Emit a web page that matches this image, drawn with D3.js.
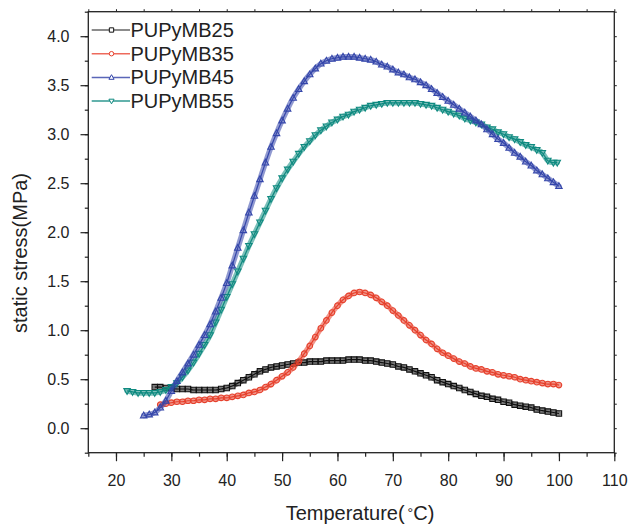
<!DOCTYPE html>
<html><head><meta charset="utf-8">
<script src="https://cdn.jsdelivr.net/npm/d3@7/dist/d3.min.js"></script>
<style>
body{margin:0;background:#fff}
svg{display:block}
text{font-family:"Liberation Sans",Arial,Helvetica,sans-serif;fill:#222}
</style>
</head><body>
<svg id="chart" width="630" height="525"></svg>
<script>
// ---- data ----
const seriesNames = ["PUPyMB25","PUPyMB35","PUPyMB45","PUPyMB55"];

const temp25 = [27,28,29,30,31,32,33,34,35,36,37,38,39,40,41,42,43,44,45,46,47,48,49,50,51,52,53,54,55,56,57,58,59,60,61,62,63,64,65,66,67,68,69,70,71,72,73,74,75,76,77,78,79,80,81,82,83,84,85,86,87,88,89,90,91,92,93,94,95,96,97,98,99,100];
const stress25 = [0.42,0.42,0.41,0.41,0.40,0.40,0.40,0.39,0.39,0.39,0.39,0.39,0.40,0.41,
  0.43,0.46,0.49,0.52,0.55,0.58,0.60,0.62,0.63,0.64,
  0.65,0.66,0.67,0.67,0.68,0.68,0.68,0.69,0.69,0.69,
  0.69,0.70,0.70,0.70,0.69,0.69,0.68,0.67,0.66,0.65,
  0.63,0.62,0.60,0.58,0.56,0.54,0.52,0.49,0.47,0.45,
  0.43,0.41,0.39,0.37,0.35,0.33,0.32,0.30,0.29,0.27,
  0.26,0.24,0.23,0.22,0.21,0.19,0.18,0.17,0.16,0.15];

const temp35 = [28,29,30,31,32,33,34,35,36,37,38,39,40,41,42,43,44,45,46,47,48,49,50,51,52,53,54,55,56,57,58,59,60,61,62,63,64,65,66,67,68,69,70,71,72,73,74,75,76,77,78,79,80,81,82,83,84,85,86,87,88,89,90,91,92,93,94,95,96,97,98,99,100];
const stress35 = [0.24,0.25,0.26,0.27,0.27,0.28,0.28,0.29,0.29,0.30,
  0.30,0.31,0.31,0.32,0.33,0.34,0.36,0.37,0.39,0.42,
  0.45,0.49,0.53,0.57,0.62,0.68,0.76,0.84,0.93,1.02,
  1.10,1.18,1.25,1.31,1.35,1.38,1.39,1.38,1.36,1.33,
  1.29,1.25,1.20,1.15,1.10,1.05,1.00,0.95,0.90,0.86,
  0.81,0.77,0.74,0.71,0.68,0.66,0.63,0.61,0.60,0.58,
  0.57,0.55,0.54,0.53,0.52,0.50,0.49,0.48,0.47,0.46,
  0.45,0.45,0.44];

const temp45 = [25,26,27,28,29,30,31,32,33,34,35,36,37,38,39,40,41,42,43,44,45,46,47,48,49,50,51,52,53,54,55,56,57,58,59,60,61,62,63,64,65,66,67,68,69,70,71,72,73,74,75,76,77,78,79,80,81,82,83,84,85,86,87,88,89,90,91,92,93,94,95,96,97,98,99,100];
const stress45 = [0.13,0.14,0.16,0.21,0.28,0.38,0.48,0.57,0.66,0.75,
  0.85,0.95,1.06,1.19,1.33,1.48,1.66,1.84,2.02,2.20,
  2.37,2.54,2.71,2.87,3.01,3.14,3.26,3.37,3.46,3.54,
  3.61,3.67,3.72,3.75,3.77,3.78,3.79,3.79,3.79,3.78,
  3.77,3.76,3.74,3.71,3.69,3.66,3.63,3.61,3.58,3.56,
  3.53,3.50,3.46,3.42,3.38,3.34,3.30,3.26,3.22,3.18,
  3.14,3.10,3.05,3.00,2.95,2.91,2.86,2.81,2.77,2.72,
  2.68,2.63,2.59,2.55,2.51,2.47];

const temp55 = [22,23,24,25,26,27,28,29,30,31,32,33,34,35,36,37,38,39,40,41,42,43,44,45,46,47,48,49,50,51,52,53,54,55,56,57,58,59,60,61,62,63,64,65,66,67,68,69,70,71,72,73,74,75,76,77,78,79,80,81,82,83,84,85,86,87,88,89,90,91,92,93,94,95,96,97,98,99,99.7];
const stress55 = [0.38,0.37,0.36,0.36,0.36,0.36,0.37,0.39,0.42,0.46,
  0.52,0.59,0.67,0.76,0.85,0.95,1.08,1.21,1.34,1.47,
  1.60,1.73,1.86,1.98,2.10,2.22,2.34,2.45,2.55,2.64,
  2.72,2.80,2.87,2.93,2.99,3.04,3.08,3.12,3.15,3.18,
  3.20,3.23,3.25,3.27,3.29,3.30,3.31,3.32,3.32,3.32,
  3.32,3.32,3.32,3.31,3.30,3.29,3.27,3.25,3.23,3.21,
  3.19,3.16,3.14,3.12,3.10,3.07,3.05,3.02,3.00,2.97,
  2.95,2.92,2.89,2.87,2.84,2.81,2.73,2.71,2.71];

const xMajorTicks = [20,30,40,50,60,70,80,90,100,110];
const yMajorTicks = [0.0,0.5,1.0,1.5,2.0,2.5,3.0,3.5,4.0];

// ---- styling ----
const colors = ["#111111","#e6402c","#3446aa","#0f8a80"];
const legendLineColors = ["#666666","#ee6a5c","#5a66b8","#2f9990"];
const shapes = ["square","circle","triUp","triDown"];

const svg = d3.select("#chart");
const L = 88.3, R = 614.3, T = 11.7, B = 452.7;
const x = d3.scaleLinear().domain([15,110]).range([L,R]);
const y = d3.scaleLinear().domain([-0.25,4.25]).range([B,T]);

const series = [
  {name:seriesNames[0], t:temp25, v:stress25},
  {name:seriesNames[1], t:temp35, v:stress35},
  {name:seriesNames[2], t:temp45, v:stress45},
  {name:seriesNames[3], t:temp55, v:stress55}
].map((s,i)=>({...s, color:colors[i], shape:shapes[i], pts:s.t.map((tt,j)=>[tt,s.v[j]])}));

function markerPath(shape, k){
  k = k||1;
  if(shape==="square"){const h=2.7*k;return `M${-h},${-h}H${h}V${h}H${-h}Z`;}
  if(shape==="circle"){const r=2.8*k;return `M${-r},0A${r},${r} 0 1,0 ${r},0A${r},${r} 0 1,0 ${-r},0Z`;}
  if(shape==="triUp"){const a=3.4*k;return `M0,${-a}L${a*0.95},${a*0.7}L${-a*0.95},${a*0.7}Z`;}
  const a=3.4*k;return `M0,${a}L${a*0.95},${-a*0.7}L${-a*0.95},${-a*0.7}Z`;
}

// ---- frame & axes ----
const axisColor = "#222";
const g = svg.append("g");

const xMinor = d3.range(15,111,5);
const bottomMin = g.append("g").attr("transform",`translate(0,${B})`)
  .call(d3.axisBottom(x).tickValues(xMinor).tickSize(4).tickFormat(""));
bottomMin.selectAll("line").attr("stroke",axisColor).attr("stroke-width",1.2);
bottomMin.select(".domain").remove();
const bottomMaj = g.append("g").attr("transform",`translate(0,${B})`)
  .call(d3.axisBottom(x).tickValues(xMajorTicks).tickSize(8.5).tickPadding(13).tickFormat(d3.format("d")));
bottomMaj.select(".domain").remove();
bottomMaj.selectAll("line").attr("stroke",axisColor).attr("stroke-width",1.2);
bottomMaj.selectAll("text").attr("font-size",16).attr("fill","#222").style("font-family",'"Liberation Sans",Arial,sans-serif');

const yMinor = d3.range(-0.25,4.26,0.25);
const leftMin = g.append("g").attr("transform",`translate(${L},0)`)
  .call(d3.axisLeft(y).tickValues(yMinor).tickSize(3.5).tickFormat(""));
leftMin.select(".domain").remove();
leftMin.selectAll("line").attr("stroke",axisColor).attr("stroke-width",1.2);
const leftMaj = g.append("g").attr("transform",`translate(${L},0)`)
  .call(d3.axisLeft(y).tickValues(yMajorTicks).tickSize(7.8).tickPadding(11).tickFormat(d3.format(".1f")));
leftMaj.select(".domain").remove();
leftMaj.selectAll("line").attr("stroke",axisColor).attr("stroke-width",1.2);
leftMaj.selectAll("text").attr("font-size",16).attr("fill","#222").style("font-family",'"Liberation Sans",Arial,sans-serif');

const topAx = g.append("g").attr("transform",`translate(0,${T})`)
  .call(d3.axisTop(x).tickValues(xMinor).tickSize(2.5).tickFormat(""));
topAx.select(".domain").remove();
topAx.selectAll("line").attr("stroke",axisColor).attr("stroke-width",1);
const rightAx = g.append("g").attr("transform",`translate(${R},0)`)
  .call(d3.axisRight(y).tickValues(yMinor).tickSize(2.5).tickFormat(""));
rightAx.select(".domain").remove();
rightAx.selectAll("line").attr("stroke",axisColor).attr("stroke-width",1);

g.append("rect").attr("x",L).attr("y",T).attr("width",R-L).attr("height",B-T)
  .attr("fill","none").attr("stroke",axisColor).attr("stroke-width",1.3);

// axis titles
const xt = svg.append("text").attr("x",360).attr("y",520).attr("text-anchor","middle").attr("font-size",20);
xt.append("tspan").text("Temperature(");
xt.append("tspan").attr("dx",3).attr("dy",-2).attr("font-size",14).text("°");
xt.append("tspan").attr("dy",2).text("C)");

svg.append("text").attr("transform","translate(27,253) rotate(-90)")
  .attr("text-anchor","middle").attr("font-size",20).text("static stress(MPa)");

// ---- series ----
const line = d3.line().x(d=>x(d[0])).y(d=>y(d[1])).curve(d3.curveMonotoneX);
const order = [0,1,3,2];
order.forEach(i=>{
  const s = series[i];
  const sg = svg.append("g");
  sg.append("path").datum(s.pts).attr("d",line).attr("fill","none")
    .attr("stroke",s.color).attr("stroke-width",5.5).attr("stroke-opacity",0.55)
    .attr("stroke-linecap","round");
  sg.append("path").datum(s.pts).attr("d",line).attr("fill","none")
    .attr("stroke",s.color).attr("stroke-width",1.2);
  sg.selectAll("path.m").data(s.pts).join("path").attr("class","m")
    .attr("transform",d=>`translate(${x(d[0])},${y(d[1])})`)
    .attr("d",markerPath(s.shape))
    .attr("fill","none")
    .attr("stroke",s.color).attr("stroke-width",1.1);
});

// ---- legend ----
const leg = svg.append("g");
series.forEach((s,i)=>{
  const ly = 30 + i*23.7;
  leg.append("line").attr("x1",91.7).attr("x2",130).attr("y1",ly).attr("y2",ly)
    .attr("stroke",legendLineColors[i]).attr("stroke-width",1.5);
  leg.append("path").attr("transform",`translate(111.5,${ly})`).attr("d",markerPath(s.shape,0.8))
    .attr("fill","#fff").attr("stroke",s.color).attr("stroke-width",1);
  leg.append("text").attr("x",130.5).attr("y",ly+7).attr("font-size",20).text(s.name);
});
</script>
</body></html>
